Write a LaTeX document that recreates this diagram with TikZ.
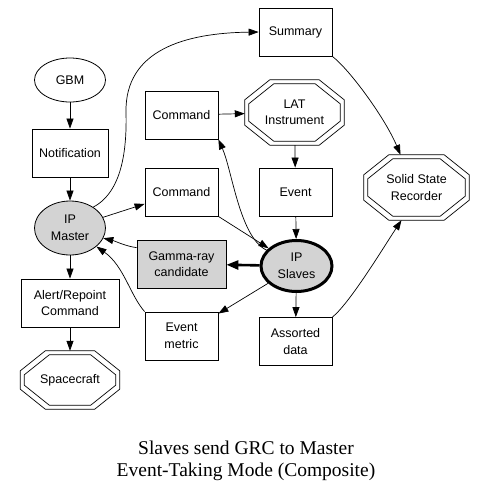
\documentclass[tikz,border=0pt]{standalone}
\usepackage{fontspec}
\setmainfont{Liberation Sans}
\newfontfamily\captionserif{Liberation Serif}
\usetikzlibrary{arrows.meta,positioning,calc,shapes.geometric}
\definecolor{GVGrey}{HTML}{D3D3D3}
\tikzset{
  flow/.style={-{Triangle[length=10pt,width=7pt]},line width=.7pt},
  flowbold/.style={-{Triangle[length=12pt,width=9pt]},line width=2.6pt},
  gvbox/.style={draw,line width=.8pt,rectangle,minimum width=73pt,minimum height=48pt,
                inner sep=2pt,align=center,font=\fontsize{12.5}{16.5}\selectfont},
  gvshade/.style={gvbox,fill=GVGrey},
  gvoval/.style={draw,line width=.8pt,ellipse,inner sep=0pt,align=center,
                 font=\fontsize{12.5}{16.5}\selectfont},
  gvovalshade/.style={gvoval,fill=GVGrey},
  octnode/.style={rectangle,inner sep=0pt,align=center,font=\fontsize{12.5}{16.5}\selectfont},
  footline/.style={font=\captionserif\fontsize{19.5}{22}\selectfont,align=center},
}
% double octagon drawn round an (undrawn) rectangle node
\newcommand{\dbloctagon}[1]{%
  \foreach \g in {0,4}{%
    \pgfmathsetmacro{\hx}{\g+25}%
    \pgfmathsetmacro{\vy}{\g+20}%
    \draw[line width=.7pt]
      ([shift={(\hx pt,-\g pt)}]#1.north west) -- ([shift={(-\hx pt,-\g pt)}]#1.north east)
      -- ([shift={(-\g pt,-\vy pt)}]#1.north east) -- ([shift={(-\g pt,\vy pt)}]#1.south east)
      -- ([shift={(-\hx pt,\g pt)}]#1.south east) -- ([shift={(\hx pt,\g pt)}]#1.south west)
      -- ([shift={(\g pt,\vy pt)}]#1.south west) -- ([shift={(\g pt,-\vy pt)}]#1.north west)
      -- cycle;
  }%
}

\begin{document}
\begin{tikzpicture}[x=1pt,y=-1pt]
  \fill[white] (0,0) rectangle (487,488);
  \useasboundingbox (0,0) rectangle (487,488);

  % master side
  \node[gvoval,minimum width=71pt,minimum height=44pt] (gbm) at (70,80) {GBM};
  \node[gvbox,minimum width=76pt] (notif) at (70,153) {Notification};
  \node[gvovalshade,minimum width=71pt,minimum height=54pt] (master) at (70,228) {IP\\Master};
  \node[gvbox,minimum width=98pt] (alert) at (70,303) {Alert/Repoint\\Command};
  \node[octnode,minimum width=99pt,minimum height=58pt] (craft) at (70,380) {Spacecraft};

  % middle column
  \node[gvbox] (cmdlat) at (181.5,115) {Command};
  \node[gvbox] (cmdslv) at (181.5,192) {Command};
  \node[gvshade,minimum width=89pt] (grc) at (181.5,264) {Gamma-ray\\candidate};
  \node[gvbox] (metric) at (181.5,336) {Event\\metric};

  % slave side
  \node[gvbox] (summary) at (295.5,32) {Summary};
  \node[octnode,minimum width=99pt,minimum height=65pt] (lat) at (294.5,112.5) {LAT\\Instrument};
  \node[gvbox] (event) at (295.5,192) {Event};
  \node[gvovalshade,line width=3pt,minimum width=71pt,minimum height=51pt] (slaves) at (296.5,266) {IP\\Slaves};
  \node[gvbox] (assorted) at (295.5,341.5) {Assorted\\data};
  \node[octnode,minimum width=105pt,minimum height=65pt] (ssr) at (416.5,187.5) {Solid State\\Recorder};

  \dbloctagon{craft}
  \dbloctagon{lat}
  \dbloctagon{ssr}

  \draw[flow] (gbm) -- (notif);
  \draw[flow] (notif) -- (master);
  \draw[flow] (master) -- (alert);
  \draw[flow] (alert) -- (craft);
  \draw[flow] (master) -- (cmdslv);
  \draw[flow] (master.42) .. controls (122,192) and (127,150) .. (126,112)
                          .. controls (125,50) and (185,33) .. (summary.west);
  \draw[flow] (cmdlat) -- (lat);
  \draw[flow] (lat) -- (event);
  \draw[flow] (event) -- (slaves);
  \draw[flow] (cmdslv.south east) -- (slaves);
  \draw[flow] (slaves.152) .. controls (240,238) and (232,170) .. (cmdlat.south east);
  \draw[flowbold] (slaves) -- (grc);
  \draw[flow] (grc.160) .. controls (125,246) and (115,241) .. (master.-17);
  \draw[flow] (metric.north west) .. controls (130,295) and (124,266) .. (master.-35);
  \draw[flow] (slaves) -- (metric);
  \draw[flow] (slaves) -- (assorted);
  \draw[flow] (summary.south east) .. controls (350,70) and (385,118) .. ([xshift=-16pt]ssr.north);
  \draw[flow] (assorted.north east) .. controls (350,303) and (385,245) .. ([xshift=-15pt]ssr.south);

  \node[footline] (title) at (246,461) {Slaves send GRC to Master\\Event-Taking Mode (Composite)};
\end{tikzpicture}
\end{document}
